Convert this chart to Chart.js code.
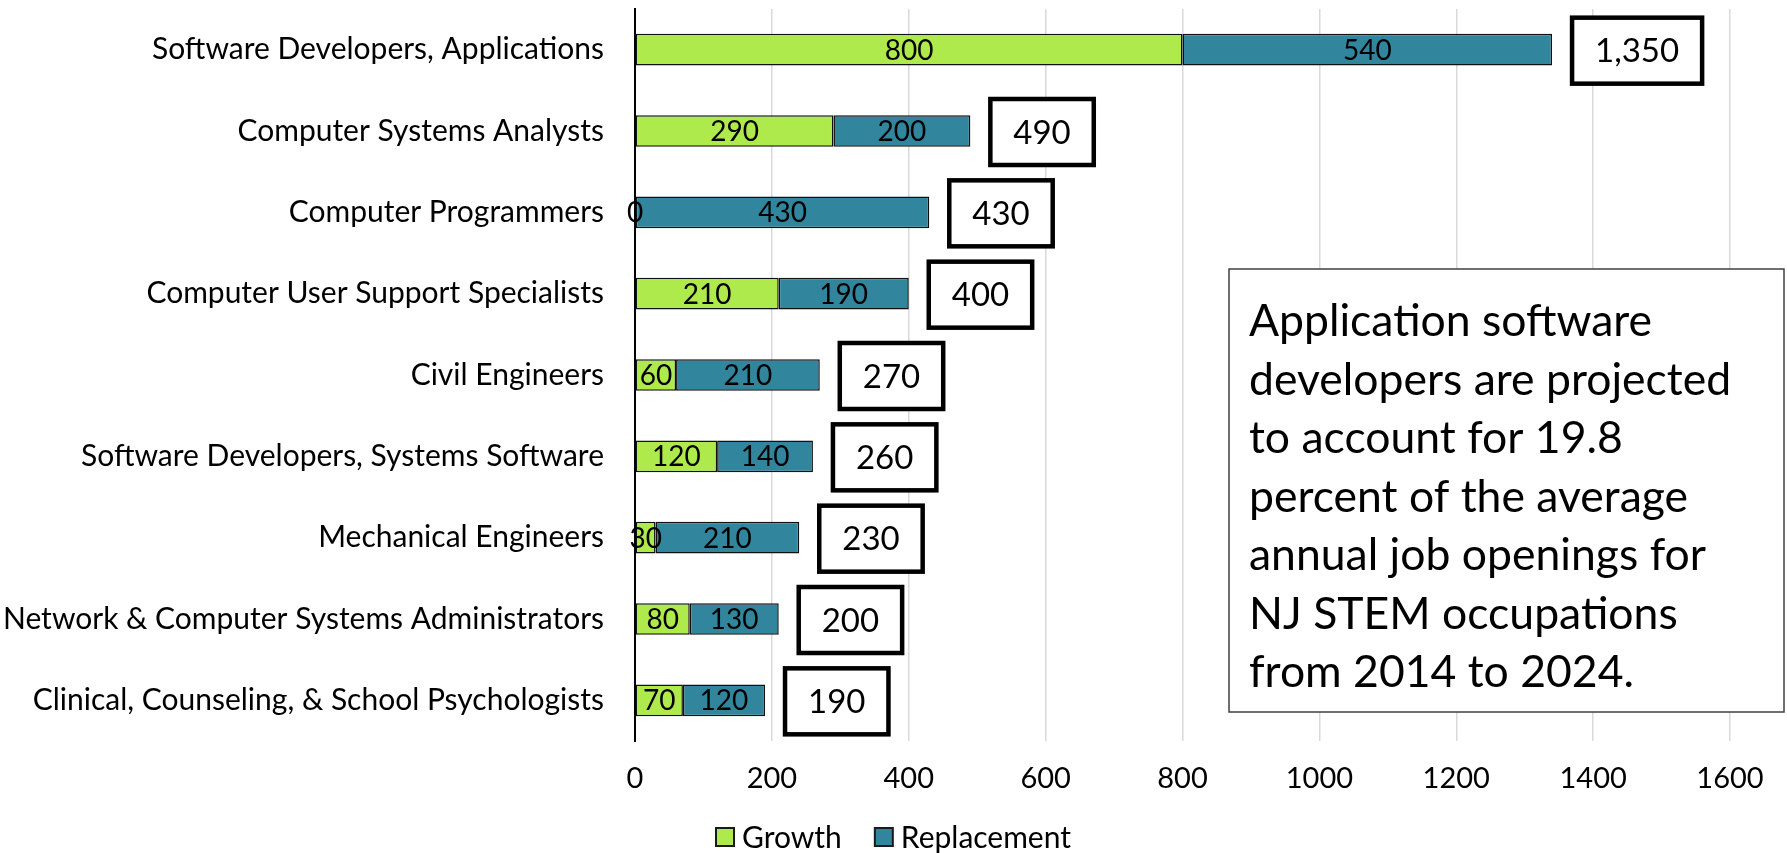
<!DOCTYPE html>
<html>
<head>
<meta charset="utf-8">
<script src="https://cdn.jsdelivr.net/npm/chart.js@4.4.1/dist/chart.umd.min.js"></script>
<style>
  html, body { margin: 0; padding: 0; background: #fff; }
</style>
</head>
<body>
<canvas id="jobsChart" width="1787" height="853"></canvas>
<script>
// occupations, top to bottom
var occupations = [
  "Software Developers, Applications",
  "Computer Systems Analysts",
  "Computer Programmers",
  "Computer User Support Specialists",
  "Civil Engineers",
  "Software Developers, Systems Software",
  "Mechanical Engineers",
  "Network & Computer Systems Administrators",
  "Clinical, Counseling, & School Psychologists"
];
var growth      = [800, 290, 0, 210, 60, 120, 30, 80, 70];
var replacement = [540, 200, 430, 190, 210, 140, 210, 130, 120];
var totals      = [1350, 490, 430, 400, 270, 260, 230, 200, 190];
var xTicks      = [0, 200, 400, 600, 800, 1000, 1200, 1400, 1600];
var noteLines = [
  "Application software",
  "developers are projected",
  "to account for 19.8",
  "percent of the average",
  "annual job openings for",
  "NJ STEM occupations",
  "from 2014 to 2024."
];

var FONT = "Lato, 'Open Sans', sans-serif";
Chart.defaults.font.family = FONT;
Chart.defaults.color = "#000";

// labels inside the bars + total boxes + note + legend
var extrasPlugin = {
  id: "extras",
  afterDatasetsDraw: function (chart) {
    var ctx = chart.ctx;
    ctx.save();
    ctx.font = "28px " + FONT;
    ctx.fillStyle = "#000";
    ctx.textAlign = "center";
    ctx.textBaseline = "middle";
    chart.data.datasets.forEach(function (ds, di) {
      chart.getDatasetMeta(di).data.forEach(function (bar, i) {
        ctx.fillText(String(ds.data[i]), (bar.x + bar.base) / 2, bar.y + 1);
      });
    });

    // total boxes
    var xs = chart.scales.x, ys = chart.scales.y;
    ctx.font = "33px " + FONT;
    totals.forEach(function (t, i) {
      var txt = t.toLocaleString("en-US");
      var w = ctx.measureText(txt).width + 46;
      var h = 66;
      var left = xs.getPixelForValue(growth[i] + replacement[i]) + 20;
      var cy = ys.getPixelForValue(i) + 1;
      ctx.fillStyle = "#fff";
      ctx.fillRect(left, cy - h / 2, w, h);
      ctx.lineWidth = 4.5;
      ctx.strokeStyle = "#000";
      ctx.strokeRect(left, cy - h / 2, w, h);
      ctx.fillStyle = "#000";
      ctx.fillText(txt, left + w / 2, cy + 1);
    });
    ctx.restore();
  },
  afterDraw: function (chart) {
    var ctx = chart.ctx;
    ctx.save();
    // note box
    var bx = 1229, by = 269, bw = 555, bh = 443;
    ctx.fillStyle = "#fff";
    ctx.fillRect(bx, by, bw, bh);
    ctx.lineWidth = 1.5;
    ctx.strokeStyle = "#404040";
    ctx.strokeRect(bx, by, bw, bh);
    ctx.fillStyle = "#000";
    ctx.font = "44.5px " + FONT;
    ctx.textAlign = "left";
    ctx.textBaseline = "middle";
    noteLines.forEach(function (line, i) {
      ctx.fillText(line, bx + 20, by + 53 + i * 58.5);
    });

    // legend
    ctx.font = "30px " + FONT;
    var items = chart.data.datasets.map(function (ds) {
      return { text: ds.label, color: ds.backgroundColor, w: 18 + 8 + ctx.measureText(ds.label).width };
    });
    var gap = 33;
    var total = items.reduce(function (s, it) { return s + it.w; }, 0) + gap * (items.length - 1);
    var x = (chart.width - total) / 2;
    var cy = 837;
    items.forEach(function (it) {
      ctx.fillStyle = it.color;
      ctx.fillRect(x, cy - 9, 18, 18);
      ctx.lineWidth = 2;
      ctx.strokeStyle = "#1a1a1a";
      ctx.strokeRect(x, cy - 9, 18, 18);
      ctx.fillStyle = "#000";
      ctx.fillText(it.text, x + 26, cy + 1);
      x += it.w + gap;
    });
    ctx.restore();
  }
};

var ctx = document.getElementById("jobsChart").getContext("2d");
var jobsChart = new Chart(ctx, {
  type: "bar",
  data: {
    labels: occupations,
    datasets: [{
      label: "Growth",
      data: growth,
      backgroundColor: "#AEEA4B",
      borderColor: "#111",
      borderWidth: 1.5,
      borderSkipped: false
    }, {
      label: "Replacement",
      data: replacement,
      backgroundColor: "#31859C",
      borderColor: "#111",
      borderWidth: 1.5,
      borderSkipped: false
    }]
  },
  options: {
    indexAxis: "y",
    responsive: false,
    animation: false,
    events: [],
    layout: { padding: { top: 9, right: 57, left: 0, bottom: 0 } },
    datasets: { bar: { categoryPercentage: 1, barPercentage: 0.39 } },
    scales: {
      x: {
        stacked: true,
        min: 0,
        max: 1600,
        afterBuildTicks: function (scale) {
          scale.ticks = xTicks.map(function (v) { return { value: v }; });
        },
        afterFit: function (scale) {
          scale.height = 112;
          scale.paddingLeft = 0;
          scale.paddingRight = 0;
        },
        grid: { color: "#D9D9D9", lineWidth: 1.5, drawTicks: false },
        border: { display: false },
        ticks: {
          font: { size: 29 }, padding: 20, color: "#000",
          callback: function (v) { return String(v); }
        }
      },
      y: {
        stacked: true,
        afterFit: function (scale) {
          scale.width = 635;
          scale.paddingTop = 0;
          scale.paddingBottom = 0;
        },
        grid: { display: true, color: "transparent", drawTicks: false },
        border: { display: true, color: "#000", width: 2 },
        ticks: { font: { size: 30 }, padding: 31, color: "#000", autoSkip: false }
      }
    },
    plugins: {
      legend: { display: false },
      tooltip: { enabled: false }
    }
  },
  plugins: [extrasPlugin]
});
</script>
</body>
</html>
